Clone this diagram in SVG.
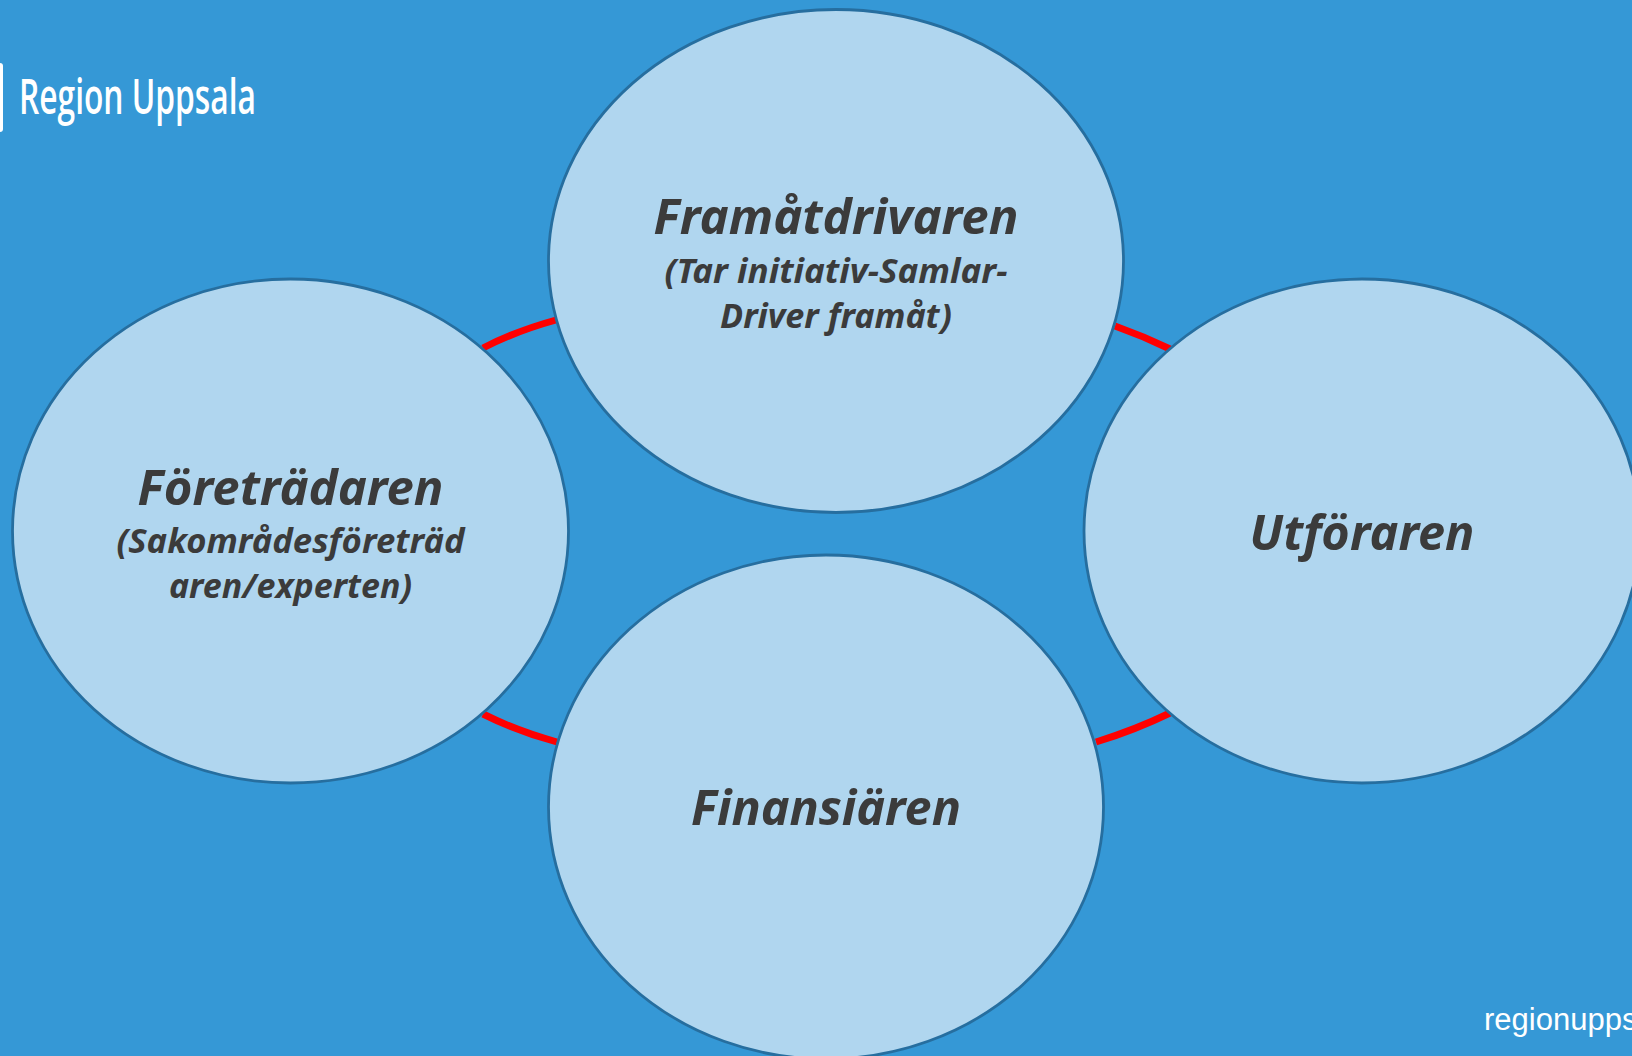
<svg xmlns="http://www.w3.org/2000/svg" width="1632" height="1056" viewBox="0 0 1632 1056">
<style>
.n{fill:#b0d6ef;stroke:#266e9f;stroke-width:2.8}
.c{fill:none;stroke:#ff0000;stroke-width:7}
.h{font-family:"Noto Sans","Open Sans",sans-serif;font-weight:700;font-style:italic;font-size:48px;fill:#3b3b3b;text-anchor:middle}
.s{font-family:"Noto Sans","Open Sans",sans-serif;font-weight:700;font-style:italic;font-size:34px;fill:#3b3b3b;text-anchor:middle}
</style>
<rect width="1632" height="1056" fill="#3598d6"/>
<g id="connectors">
<path class="c" d="M483 348Q516 331 556 320"/>
<path class="c" d="M1115 326Q1143 336 1170 349"/>
<path class="c" d="M1096 742Q1135 730 1170 713"/>
<path class="c" d="M483 714Q517 731 557 742"/>
</g>
<g id="framatdrivaren"><ellipse class="n" cx="836" cy="261" rx="287.500" ry="251.500"/>
<text class="h" x="836" y="234" textLength="365" lengthAdjust="spacingAndGlyphs">Framåtdrivaren</text>
<text class="s" x="836" y="283" textLength="343" lengthAdjust="spacingAndGlyphs">(Tar initiativ-Samlar-</text>
<text class="s" x="836" y="328" textLength="232" lengthAdjust="spacingAndGlyphs">Driver framåt)</text></g>
<g id="foretradaren"><ellipse class="n" cx="290.500" cy="531" rx="278" ry="252"/>
<text class="h" x="290.500" y="505" textLength="306" lengthAdjust="spacingAndGlyphs">Företrädaren</text>
<text class="s" x="290.500" y="553" textLength="348" lengthAdjust="spacingAndGlyphs">(Sakområdesföreträd</text>
<text class="s" x="290.500" y="598" textLength="243" lengthAdjust="spacingAndGlyphs">aren/experten)</text></g>
<g id="utforaren"><ellipse class="n" cx="1362" cy="531" rx="278" ry="252"/>
<text class="h" x="1362" y="550" textLength="225" lengthAdjust="spacingAndGlyphs">Utföraren</text></g>
<g id="finansiaren"><ellipse class="n" cx="826" cy="807" rx="277.500" ry="252"/>
<text class="h" x="826" y="825" textLength="270" lengthAdjust="spacingAndGlyphs">Finansiären</text></g>
<g id="logo">
<path d="M0 63Q3 63 3 66V129Q3 132 0 132Z" fill="#fff"/>
<text x="19" y="114" font-family="'Open Sans',sans-serif" font-weight="600" font-size="48" fill="#fff" textLength="237" lengthAdjust="spacingAndGlyphs">Region Uppsala</text></g>
<text x="1484" y="1030" font-family="'Liberation Sans',Arial,sans-serif" font-size="31" fill="#fff">regionupps</text>
</svg>
